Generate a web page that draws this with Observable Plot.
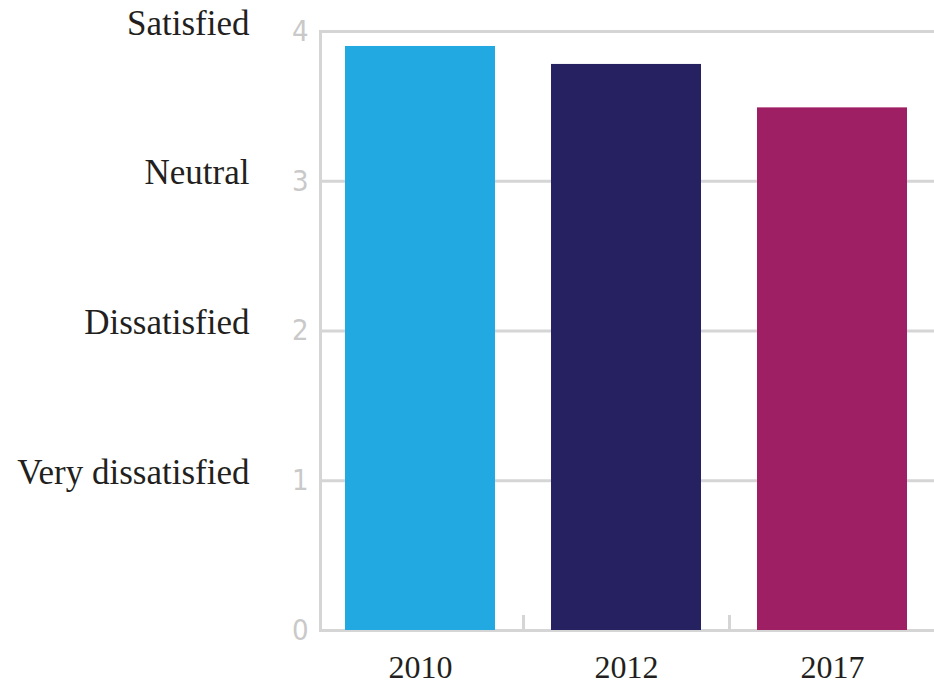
<!DOCTYPE html>
<html>
<head>
<meta charset="utf-8">
<script src="https://cdn.jsdelivr.net/npm/d3@7"></script>
<script src="https://cdn.jsdelivr.net/npm/@observablehq/plot@0.6"></script>
<style>
  html, body { margin: 0; padding: 0; background: #fff; }
  #chart svg { display: block; }
  .ynum text { font-family: "DejaVu Sans", sans-serif; font-stretch: condensed; }
</style>
</head>
<body>
<div id="chart"></div>
<script>
// Mean satisfaction score by survey year
const years = ["2010", "2012", "2017"];
const scores = [3.9, 3.78, 3.49];
const barColors = ["#22a9e1", "#262262", "#9e1f63"];

// Verbal anchors for the score scale
const levelNames = ["Satisfied", "Neutral", "Dissatisfied", "Very dissatisfied"];
const levelValues = [4, 3, 2, 1];
const yTicks = [0, 1, 2, 3, 4];

const rows = years.map((year, i) => ({year, score: scores[i], color: barColors[i]}));
const levels = levelNames.map((name, i) => ({name, value: levelValues[i]}));

const grid = "#d5d5d5";

const chart = Plot.plot({
  width: 934,
  height: 687,
  marginLeft: 320,
  marginRight: 0,
  marginTop: 31,
  marginBottom: 57,
  x: {type: "band", domain: years, range: [316, 935], paddingInner: 0.273, paddingOuter: 0.1365},
  y: {domain: [0, 4]},
  marks: [
    Plot.ruleY(yTicks, {stroke: grid, strokeWidth: 3}),
    Plot.frame({anchor: "left", stroke: grid, strokeWidth: 3}),
    Plot.ruleX(years, {x: d => d, y1: 0, y2: 0.1, dx: 103, stroke: grid, strokeWidth: 3}),
    Plot.barY(rows, {x: "year", y: "score", fill: "color"}),
    Plot.axisY({
      ticks: yTicks, tickFormat: "d", tickSize: 0, tickPadding: 12, fontSize: 29,
      className: "ynum", fill: "#c9c9c9", label: null
    }),
    Plot.axisX({
      tickSize: 0, tickPadding: 25, fontSize: 32,
      fontFamily: "'Liberation Serif', serif", fill: "#231f20", label: null
    }),
    Plot.text(levels, {
      y: "value", text: "name", frameAnchor: "left", dx: -71, dy: -8,
      textAnchor: "end", fontSize: 35, fontFamily: "'Liberation Serif', serif",
      fill: "#231f20"
    })
  ]
});

document.getElementById("chart").append(chart);
</script>
</body>
</html>
